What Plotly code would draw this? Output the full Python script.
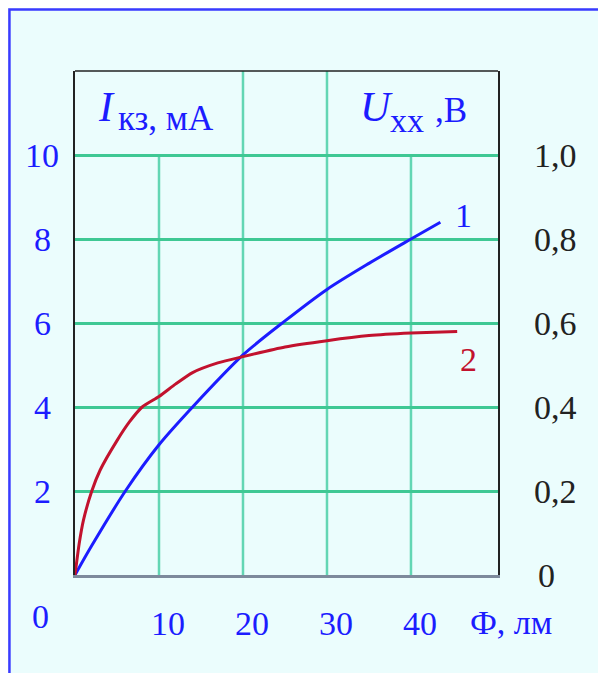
import plotly.graph_objects as go

# curve 1: short-circuit current, mA (left axis)
flux_1 = [0, 2, 6, 10, 14, 20, 25, 30, 35, 40, 43.5]
i_kz = [0, 0.7, 2.0, 3.1, 4.0, 5.24, 6.05, 6.8, 7.42, 8.0, 8.4]

# curve 2: open-circuit voltage, V (right axis)
flux_2 = [0, 0.5, 1, 2, 3, 5, 6.5, 8, 10, 12, 14, 17, 20, 25, 30, 35, 40, 45.5]
u_xx = [0, 0.075, 0.13, 0.2, 0.25, 0.32, 0.365, 0.40, 0.425, 0.455, 0.482,
        0.505, 0.52, 0.543, 0.558, 0.57, 0.576, 0.58]

x_ticks = [10, 20, 30, 40]
x_grid_top = [10, 12, 12, 10]   # 10 and 40 stop under the axis titles
left_ticks = [2, 4, 6, 8, 10]
right_ticks = [0.2, 0.4, 0.6, 0.8, 1.0]
right_text = ["0,2", "0,4", "0,6", "0,8", "1,0"]

BLUE = "#1c1cff"
RED = "#c2122e"
FONT = "Liberation Serif, Times New Roman, serif"
BG = "#ebfdfd"

fig = go.Figure()
fig.add_trace(go.Scatter(x=flux_1, y=i_kz, mode="lines", yaxis="y",
                         line=dict(color=BLUE, width=3, shape="spline", smoothing=0.8)))
fig.add_trace(go.Scatter(x=flux_2, y=u_xx, mode="lines", yaxis="y2",
                         line=dict(color=RED, width=3, shape="spline", smoothing=0.6)))

shapes = []
for xv, top in zip(x_ticks, x_grid_top):
    shapes.append(dict(type="line", xref="x", yref="y", x0=xv, x1=xv, y0=0, y1=top,
                       line=dict(color="#63d6b4", width=2.5), layer="below"))
# top border of plot box
shapes.append(dict(type="line", xref="paper", yref="paper", x0=0, x1=1, y0=1, y1=1,
                   line=dict(color="#222", width=1.5)))
# outer blue frame (only top and left are visible)
shapes.append(dict(type="rect", xref="paper", yref="paper", x0=-0.155, x1=1.6, y0=-0.6, y1=1.122,
                   line=dict(color="#3a3aff", width=2.5)))


def label(x, y, text, size, color=BLUE, **kw):
    return dict(x=x, y=y, text=text, showarrow=False, font=dict(size=size, color=color), **kw)


ann = []
for v in left_ticks:
    ann.append(label(-0.078, v, str(v), 34, xref="paper", yref="y", xanchor="center"))
ann.append(label(-0.082, -0.083, "0", 34, xref="paper", yref="paper",
                 xanchor="center", yanchor="middle"))
ann.append(label(1.0, 0, "0", 34, color="#222", xref="paper", yref="y",
                 xanchor="left", xshift=38))
ann.append(label(0.93, -0.095, "Ф, лм", 34, xref="paper", yref="paper",
                 xanchor="left", yanchor="middle"))

# axis titles inside the plot box, built from pieces so the subscripts sit lower
ann.append(label(2.5, 11.15, "<i>I</i>", 42, xanchor="left", yanchor="middle"))
ann.append(label(4.88, 10.86, "кз, мА", 35, xanchor="left", yanchor="middle"))
ann.append(label(33.7, 11.15, "<i>U</i>", 42, xanchor="left", yanchor="middle"))
ann.append(label(37.26, 10.83, "хх", 34, xanchor="left", yanchor="middle"))
ann.append(label(42.6, 11.07, ",В", 35, xanchor="left", yanchor="middle"))

# curve numbers
ann.append(label(46.3, 8.57, "1", 34))
ann.append(label(46.8, 5.12, "2", 34, color=RED))

fig.update_layout(
    # page body has an 8px margin, so the plot box is placed 8px up/left
    width=606, height=673,
    margin=dict(l=67, r=116, t=63, b=106),
    paper_bgcolor=BG, plot_bgcolor=BG,
    showlegend=False,
    font=dict(family=FONT, size=34, color=BLUE),
    xaxis=dict(range=[0, 50.36], tickvals=x_ticks, showgrid=False, zeroline=False,
               showline=True, linecolor="#7d8a9c", linewidth=3, ticks="",
               ticklabelshift=9, ticklabelstandoff=16, tickfont=dict(size=34, color=BLUE)),
    yaxis=dict(range=[0, 12], tickvals=left_ticks, showticklabels=False, showgrid=True,
               gridcolor="#3fc894", gridwidth=2.5, zeroline=False,
               showline=True, mirror=True, linecolor="#222", linewidth=1.5, ticks=""),
    yaxis2=dict(range=[0, 1.2], overlaying="y", side="right", tickvals=right_ticks,
                ticktext=right_text, showgrid=False, zeroline=False, showline=False,
                ticks="", ticklabelstandoff=35, tickfont=dict(size=34, color="#222")),
    shapes=shapes,
    annotations=ann,
)

fig.write_html("out.html")
